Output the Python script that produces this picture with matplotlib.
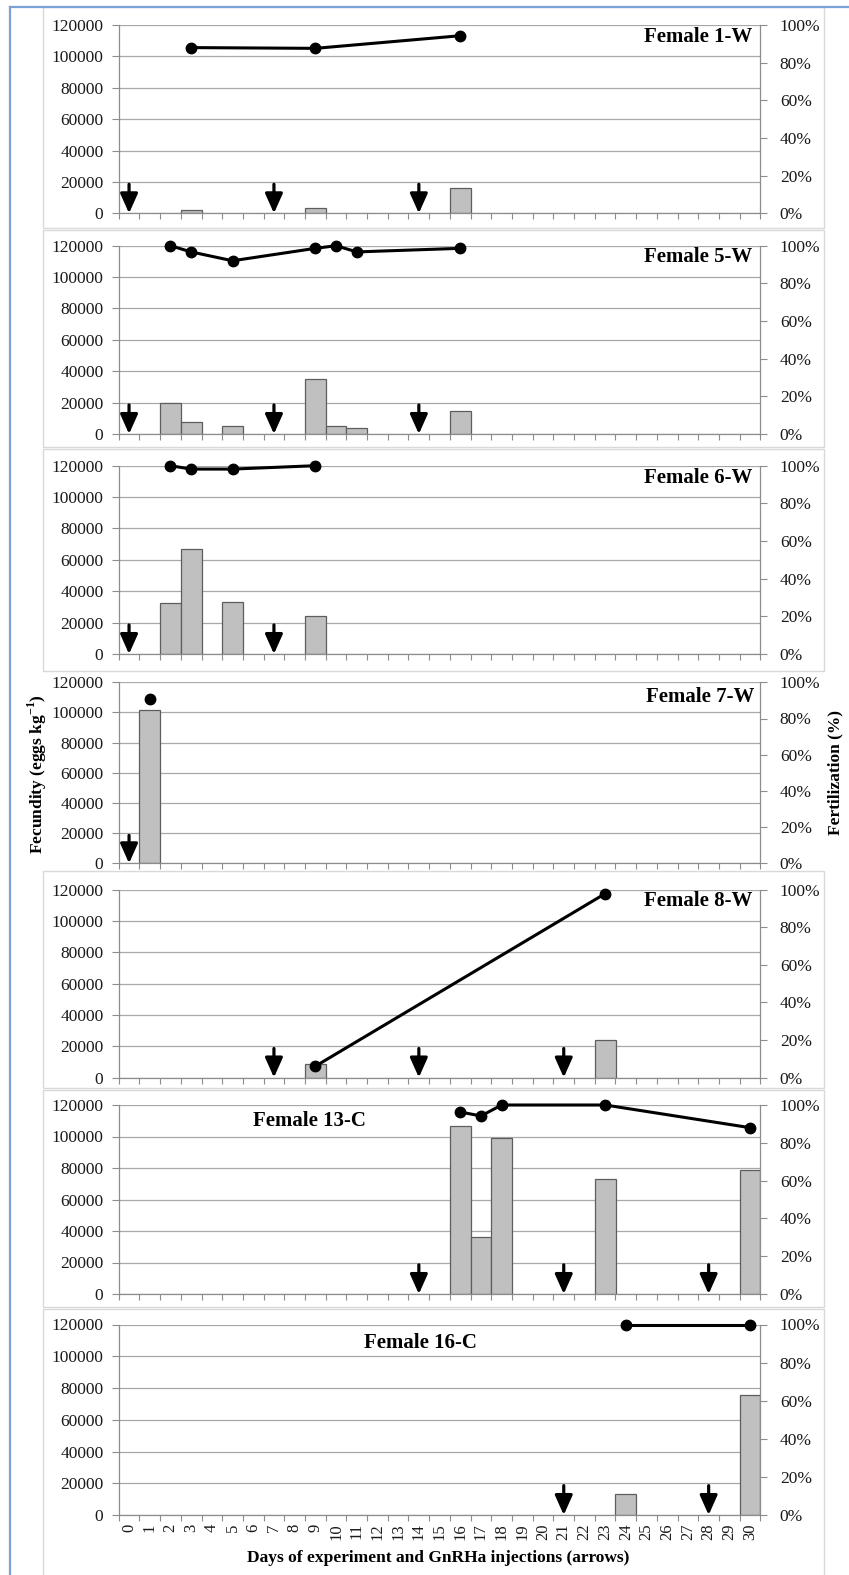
import matplotlib
matplotlib.use('Agg')
import matplotlib.pyplot as plt
from matplotlib.ticker import FuncFormatter
from matplotlib.patches import Rectangle
from matplotlib.lines import Line2D
import numpy as np

plt.rcParams['font.family'] = ['Liberation Serif', 'DejaVu Serif']
plt.rcParams['mathtext.fontset'] = 'custom'
plt.rcParams['mathtext.rm'] = 'Liberation Serif'
plt.rcParams['mathtext.bf'] = 'Liberation Serif:bold'

# ---------------- data ----------------
days = list(range(31))
day_labels = [str(d) for d in days]
yticks_left = [0, 20000, 40000, 60000, 80000, 100000, 120000]
yticks_right = [0, 20, 40, 60, 80, 100]

titles = ['Female 1-W', 'Female 5-W', 'Female 6-W', 'Female 7-W',
          'Female 8-W', 'Female 13-C', 'Female 16-C']

f1_bar_days = [3, 9, 16]
f1_bar_vals = [2000, 3500, 16000]
f1_fert_days = [3, 9, 16]
f1_fert_vals = [88, 87.6, 94.3]
f1_arrows = [0, 7, 14]

f5_bar_days = [2, 3, 5, 9, 10, 11, 16]
f5_bar_vals = [19500, 7800, 5000, 35000, 5000, 4000, 14500]
f5_fert_days = [2, 3, 5, 9, 10, 11, 16]
f5_fert_vals = [100, 96.7, 92, 98.6, 100, 96.7, 98.6]
f5_arrows = [0, 7, 14]

f6_bar_days = [2, 3, 5, 9]
f6_bar_vals = [32500, 66800, 33000, 24000]
f6_fert_days = [2, 3, 5, 9]
f6_fert_vals = [100, 98.2, 98.2, 100]
f6_arrows = [0, 7]

f7_bar_days = [1]
f7_bar_vals = [101500]
f7_fert_days = [1]
f7_fert_vals = [90.7]
f7_arrows = [0]

f8_bar_days = [9, 23]
f8_bar_vals = [8500, 24000]
f8_fert_days = [9, 23]
f8_fert_vals = [6, 97.8]
f8_arrows = [7, 14, 21]

f13_bar_days = [16, 17, 18, 23, 30]
f13_bar_vals = [106500, 36400, 98800, 73200, 79000]
f13_fert_days = [16, 17, 18, 23, 30]
f13_fert_vals = [96.3, 94.2, 100, 100, 88]
f13_arrows = [14, 21, 28]

f16_bar_days = [24, 30]
f16_bar_vals = [13000, 75500]
f16_fert_days = [24, 30]
f16_fert_vals = [100, 100]
f16_arrows = [21, 28]

bar_days = [f1_bar_days, f5_bar_days, f6_bar_days, f7_bar_days, f8_bar_days, f13_bar_days, f16_bar_days]
bar_vals = [f1_bar_vals, f5_bar_vals, f6_bar_vals, f7_bar_vals, f8_bar_vals, f13_bar_vals, f16_bar_vals]
fert_days = [f1_fert_days, f5_fert_days, f6_fert_days, f7_fert_days, f8_fert_days, f13_fert_days, f16_fert_days]
fert_vals = [f1_fert_vals, f5_fert_vals, f6_fert_vals, f7_fert_vals, f8_fert_vals, f13_fert_vals, f16_fert_vals]
arrows = [f1_arrows, f5_arrows, f6_arrows, f7_arrows, f8_arrows, f13_arrows, f16_arrows]

# ---------------- layout ----------------
W, H = 849, 1575
fig = plt.figure(figsize=(W / 100, H / 100), dpi=100)
fig.patch.set_facecolor('white')

x_left, x_right = 118.7, 760.4
panel_y = [(25, 213.3), (245.7, 434), (465.7, 654), (682.3, 863.3),
           (889.5, 1077.5), (1105, 1294), (1324.5, 1515)]
title_pos = [(0.987, 0.935, 'right'), (0.987, 0.94, 'right'), (0.987, 0.935, 'right'),
             (0.99, 0.918, 'right'), (0.987, 0.94, 'right'), (0.298, 0.915, 'center'),
             (0.47, 0.905, 'center')]
frames = [(43, 7, 824, 228), (43, 230, 824, 447), (43, 449, 824, 671),
          (43, 871, 824, 1088), (43, 1090, 824, 1307), (43, 1309, 824, 1590)]

for (x0, y0, x1, y1) in frames:
    fig.add_artist(Rectangle((x0 / W, 1 - y1 / H), (x1 - x0) / W, (y1 - y0) / H,
                             transform=fig.transFigure, fill=False,
                             edgecolor='#d9d9d9', lw=1.0, zorder=0))

# blue outer border
fig.add_artist(Line2D([9.5 / W, 9.5 / W], [0, 1 - 7 / H], transform=fig.transFigure,
                      color='#7aa2d6', lw=1.6))
fig.add_artist(Line2D([9.5 / W, 1], [1 - 7 / H, 1 - 7 / H], transform=fig.transFigure,
                      color='#7aa2d6', lw=1.6))

spine_c = '#8c8c8c'
grid_c = '#a8a8a8'
lab_c = '#1a1a1a'

for i in range(7):
    yt, yb = panel_y[i]
    ax = fig.add_axes([x_left / W, 1 - yb / H, (x_right - x_left) / W, (yb - yt) / H])
    ax.set_xlim(-0.5, 30.5)
    ax.set_ylim(0, 120000)
    ax.set_facecolor('none')
    ax.bar(bar_days[i], bar_vals[i], width=1.0, color='#c0c0c0',
           edgecolor='#5e5e5e', lw=0.9, zorder=2)
    ax.set_yticks(yticks_left)
    ax.yaxis.set_major_formatter(FuncFormatter(lambda v, p: '%d' % v))
    ax.yaxis.grid(True, color=grid_c, lw=0.9)
    ax.set_axisbelow(True)
    ax.set_xticks(np.arange(-0.5, 31, 1.0))
    ax.set_xticklabels([])
    ax.tick_params(axis='x', which='major', length=4, width=0.8, color=spine_c, direction='out')
    ax.tick_params(axis='y', length=5, width=0.8, color=spine_c, pad=6,
                   labelsize=12.5, labelcolor=lab_c)
    if i == 6:
        ax.set_xticks(days, minor=True)
        ax.set_xticklabels(day_labels, minor=True, rotation=90, fontsize=12, color=lab_c)
        ax.tick_params(axis='x', which='minor', length=0, pad=6)
    for s in ['top', 'right']:
        ax.spines[s].set_visible(False)
    for s in ['left', 'bottom']:
        ax.spines[s].set_color(spine_c)
        ax.spines[s].set_linewidth(0.9)

    for d in arrows[i]:
        ax.annotate('', xy=(d, 0), xytext=(d, 18500),
                    arrowprops=dict(arrowstyle='-|>,head_length=0.85,head_width=0.38',
                                    mutation_scale=14, lw=2.3, color='black',
                                    shrinkA=0, shrinkB=0), zorder=5)

    ax2 = ax.twinx()
    ax2.set_ylim(0, 100)
    ax2.set_yticks(yticks_right)
    ax2.yaxis.set_major_formatter(FuncFormatter(lambda v, p: '%d%%' % v))
    ax2.tick_params(axis='y', length=5, width=0.8, color=spine_c, pad=9,
                    labelsize=12.5, labelcolor=lab_c)
    for s in ['top', 'left', 'bottom']:
        ax2.spines[s].set_visible(False)
    ax2.spines['right'].set_color(spine_c)
    ax2.spines['right'].set_linewidth(0.9)
    ax2.plot(fert_days[i], fert_vals[i], '-o', color='black', lw=2.2, ms=7.5,
             clip_on=False, zorder=6)

    tx, ty, ha = title_pos[i]
    ax2.text(tx, ty, titles[i], transform=ax.transAxes, ha=ha, va='center',
             fontsize=15, fontweight='bold', color='black', zorder=7)

fig.text(37 / W, 1 - 774 / H, r'Fecundity (eggs kg$^{\mathbf{-1}}$)', rotation=90,
         ha='center', va='center', fontsize=12.5, fontweight='bold')
fig.text(835 / W, 1 - 772 / H, 'Fertilization (%)', rotation=90, ha='center',
         va='center', fontsize=12.5, fontweight='bold')
fig.text(438 / W, 1 - 1558 / H, 'Days of experiment and GnRHa injections (arrows)',
         ha='center', va='center', fontsize=12.5, fontweight='bold')

fig.savefig('out.png', dpi=100, facecolor='white')
